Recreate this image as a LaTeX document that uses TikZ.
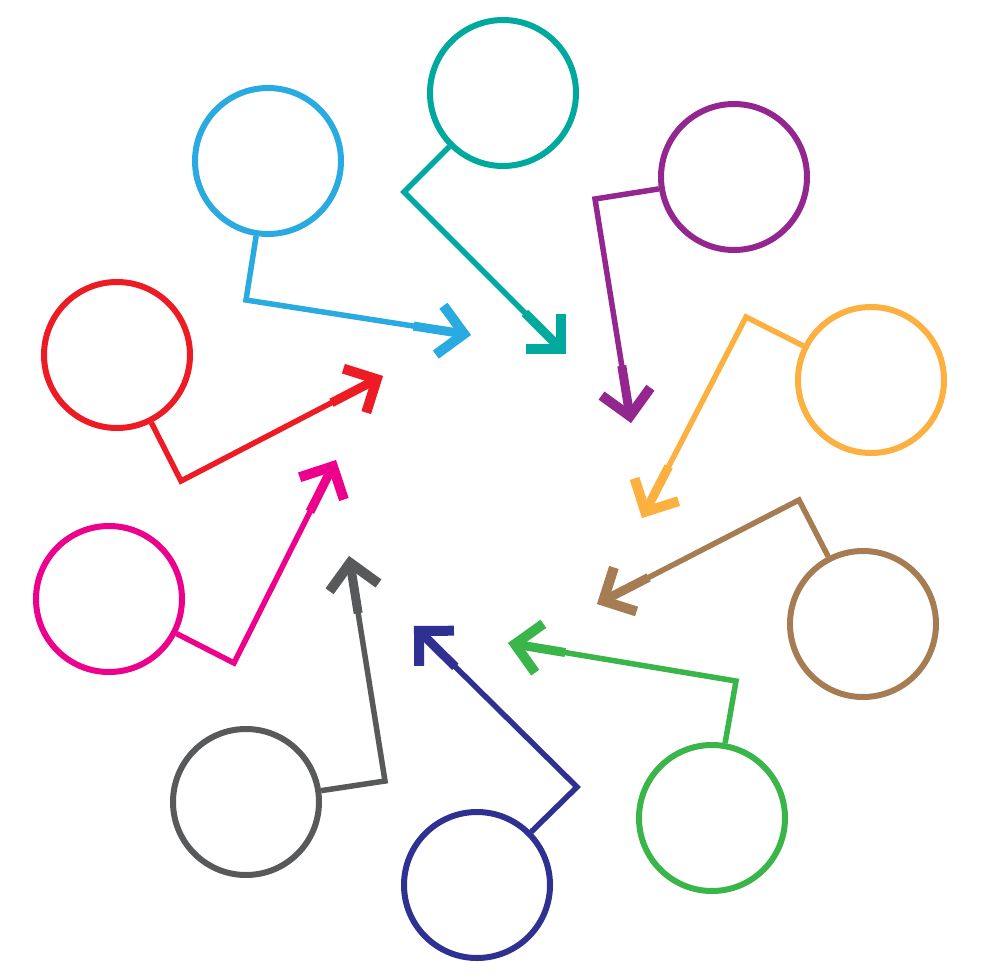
\documentclass[tikz,border=0pt]{standalone}
\usepackage{tikz}
\usetikzlibrary{calc}
\definecolor{cteal}{RGB}{0,169,157}
\definecolor{cblue}{RGB}{41,171,226}
\definecolor{cpurple}{RGB}{147,39,143}
\definecolor{cred}{RGB}{237,28,36}
\definecolor{corange}{RGB}{251,176,64}
\definecolor{cpink}{RGB}{236,0,140}
\definecolor{cbrown}{RGB}{166,124,82}
\definecolor{cgray}{RGB}{88,89,91}
\definecolor{cgreen}{RGB}{57,181,74}
\definecolor{cnavy}{RGB}{46,49,146}

\begin{document}
\begin{tikzpicture}[x=1pt,y=-1pt,
    bubble/.style={draw,circle,line width=6pt,minimum size=146pt,inner sep=0pt},
    stem/.style={line width=5.5pt,line join=miter},
    shaft/.style={line width=9pt},
    barb/.style={line width=10pt,line join=miter,miter limit=4}]
    \useasboundingbox (0,0) rectangle (980,980);
    % Draw the circles, the bends and the tips
    \foreach \name/\col/\cx/\cy/\ex/\ey/\tx/\ty in {
        teal/cteal/503/93/404/192/566/354,
        blue/cblue/268/161/246/300/471/335,
        purple/cpurple/734/177/595/199/631/423,
        orange/corange/871/380/746/317/642/518,
        brown/cbrown/863/624/799/500/597/604,
        green/cgreen/712/818/736/681/508/643,
        navy/cnavy/477/885/577/787/414/626,
        gray/cgray/246/802/385/781/349/556,
        pink/cpink/109/599/234/663/336/460,
        red/cred/117/355/181/481/383/376} {
      \node[bubble,draw=\col] (\name) at (\cx,\cy) {};
      \coordinate (\name-bend) at (\ex,\ey);
      \coordinate (\name-tip) at (\tx,\ty);
      \coordinate (\name-v) at ($(\name-tip)!7pt!(\name-bend)$);
      \draw[stem,color=\col] (\name) -- (\name-bend) -- (\name-v);
      \draw[shaft,color=\col] ($(\name-tip)!58pt!(\name-bend)$) -- (\name-v);
      \draw[barb,color=\col] ($(\name-v)!35pt!45:(\name-bend)$) -- (\name-v)
          -- ($(\name-v)!35pt!-45:(\name-bend)$);
    }
\end{tikzpicture}
\end{document}
